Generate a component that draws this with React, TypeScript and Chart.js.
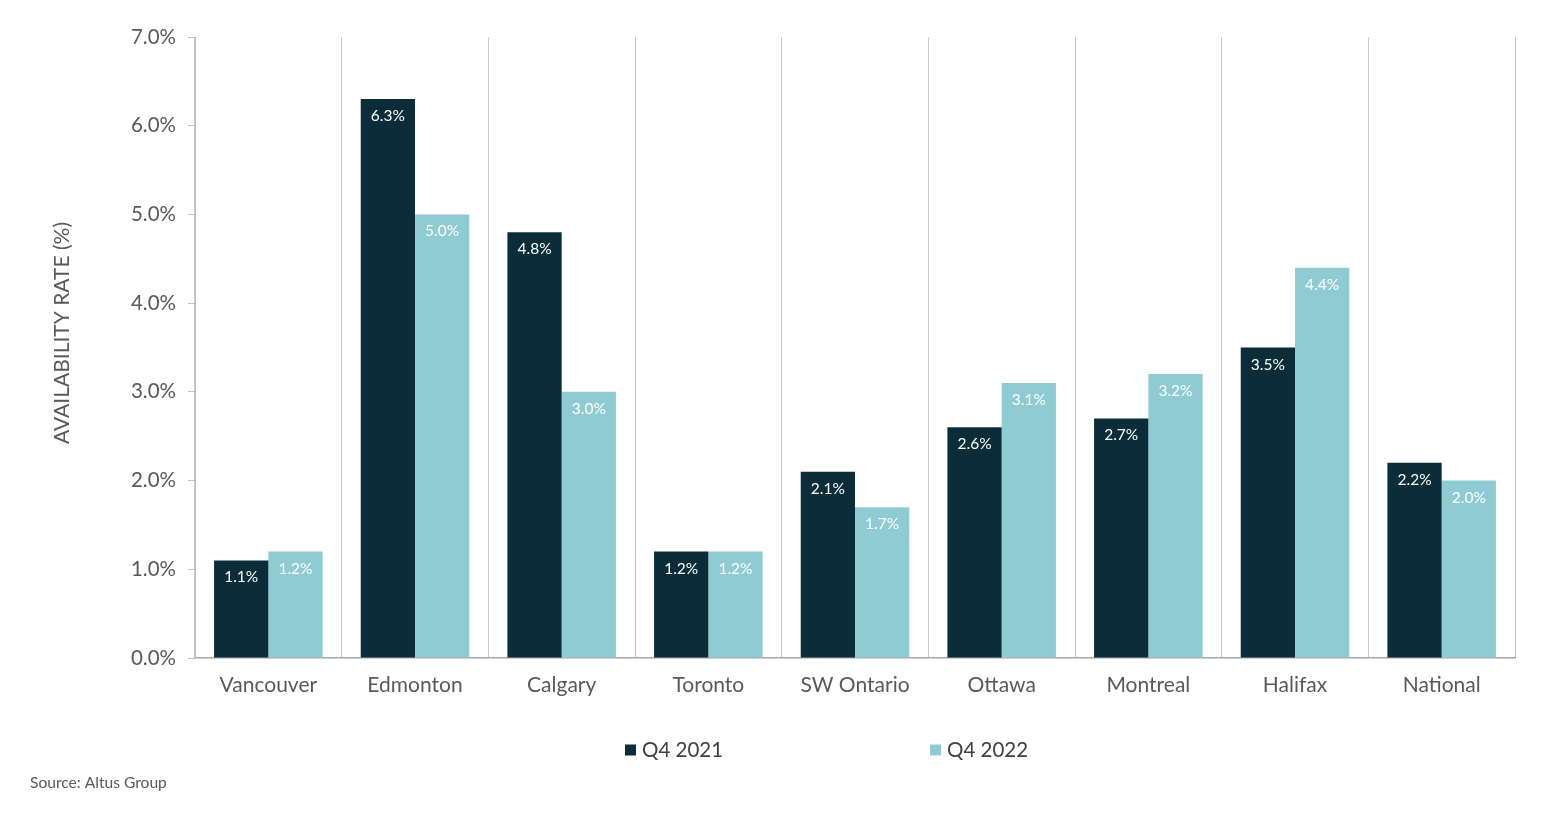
import React, { useEffect, useRef } from "react";
import { Chart, registerables } from "chart.js";

Chart.register(...registerables);

const categories = ["Vancouver", "Edmonton", "Calgary", "Toronto", "SW Ontario", "Ottawa", "Montreal", "Halifax", "National"];
const seriesNames = ["Q4 2021", "Q4 2022"];
const q4_2021 = [1.1, 6.3, 4.8, 1.2, 2.1, 2.6, 2.7, 3.5, 2.2];
const q4_2022 = [1.2, 5.0, 3.0, 1.2, 1.7, 3.1, 3.2, 4.4, 2.0];
const yTicks = [0, 1, 2, 3, 4, 5, 6, 7];
const yTitle = "AVAILABILITY RATE (%)";
const sourceText = "Source: Altus Group";

const DARK = "#0b2d39";
const LIGHT = "#8fcbd3";
const TEXT = "#595959";
const FONT = "Lato, 'Open Sans', sans-serif";

const valueLabels = {
  id: "valueLabels",
  afterDatasetsDraw(chart: any) {
    const ctx = chart.ctx;
    ctx.save();
    ctx.fillStyle = "#ffffff";
    ctx.font = `15.5px ${FONT}`;
    ctx.textAlign = "center";
    ctx.textBaseline = "middle";
    chart.data.datasets.forEach((ds: any, di: number) => {
      const meta = chart.getDatasetMeta(di);
      meta.data.forEach((bar: any, i: number) => {
        ctx.fillText(ds.data[i].toFixed(1) + "%", bar.x, bar.y + 17);
      });
    });
    ctx.restore();
  },
};

const customLegend = {
  id: "customLegend",
  afterDraw(chart: any) {
    const ctx = chart.ctx;
    ctx.save();
    // y axis title
    ctx.save();
    ctx.translate(62, 333);
    ctx.rotate(-Math.PI / 2);
    ctx.fillStyle = TEXT;
    ctx.font = `21px ${FONT}`;
    ctx.textAlign = "center";
    ctx.textBaseline = "middle";
    ctx.fillText(yTitle, 0, 0);
    ctx.restore();
    // legend
    const xs = [625, 930];
    const y = 750;
    chart.data.datasets.forEach((ds: any, di: number) => {
      ctx.fillStyle = ds.backgroundColor;
      ctx.fillRect(xs[di], y - 5.5, 11, 11);
      ctx.fillStyle = "#404040";
      ctx.font = `20.5px ${FONT}`;
      ctx.textAlign = "left";
      ctx.textBaseline = "middle";
      ctx.fillText(ds.label, xs[di] + 17, y);
    });
    // source
    ctx.fillStyle = TEXT;
    ctx.font = `15.6px ${FONT}`;
    ctx.textAlign = "left";
    ctx.textBaseline = "middle";
    ctx.fillText(sourceText, 30, 783);
    ctx.restore();
  },
};

export default function App() {
  const ref = useRef<HTMLCanvasElement | null>(null);
  useEffect(() => {
    document.body.style.margin = "0";
    const chart = new Chart(ref.current!, {
      type: "bar",
      data: {
        labels: categories,
        datasets: [
          { label: seriesNames[0], data: q4_2021, backgroundColor: DARK, barPercentage: 1, categoryPercentage: 0.74 },
          { label: seriesNames[1], data: q4_2022, backgroundColor: LIGHT, barPercentage: 1, categoryPercentage: 0.74 },
        ],
      },
      options: {
        animation: false,
        responsive: false,
        layout: { padding: { top: 37, right: 33, left: 0, bottom: 0 } },
        plugins: { legend: { display: false }, tooltip: { enabled: false } },
        scales: {
          x: {
            grid: { offset: true, drawTicks: false, color: "#c8c8c8", lineWidth: 1 },
            border: { color: "#a6a6a6", width: 1.5 },
            ticks: { color: TEXT, font: { family: FONT, size: 21 }, padding: 15 },
            afterFit: (s: any) => { s.height = 158; },
          },
          y: {
            min: 0,
            max: 7,
            afterBuildTicks: (s: any) => { s.ticks = yTicks.map((v) => ({ value: v })); },
            grid: { drawOnChartArea: false, drawTicks: true, tickLength: 7, color: "#bfbfbf" },
            border: { color: "#bfbfbf" },
            ticks: {
              color: TEXT,
              font: { family: FONT, size: 20.5 },
              padding: 12,
              callback: (v: any) => Number(v).toFixed(1) + "%",
            },
            title: { display: false, text: yTitle },
            afterFit: (s: any) => { s.width = 195; },
          },
        },
      },
      plugins: [valueLabels, customLegend],
    });
    return () => chart.destroy();
  }, []);
  return <canvas ref={ref} width={1548} height={816} style={{ display: "block", width: 1548, height: 816 }} />;
}
